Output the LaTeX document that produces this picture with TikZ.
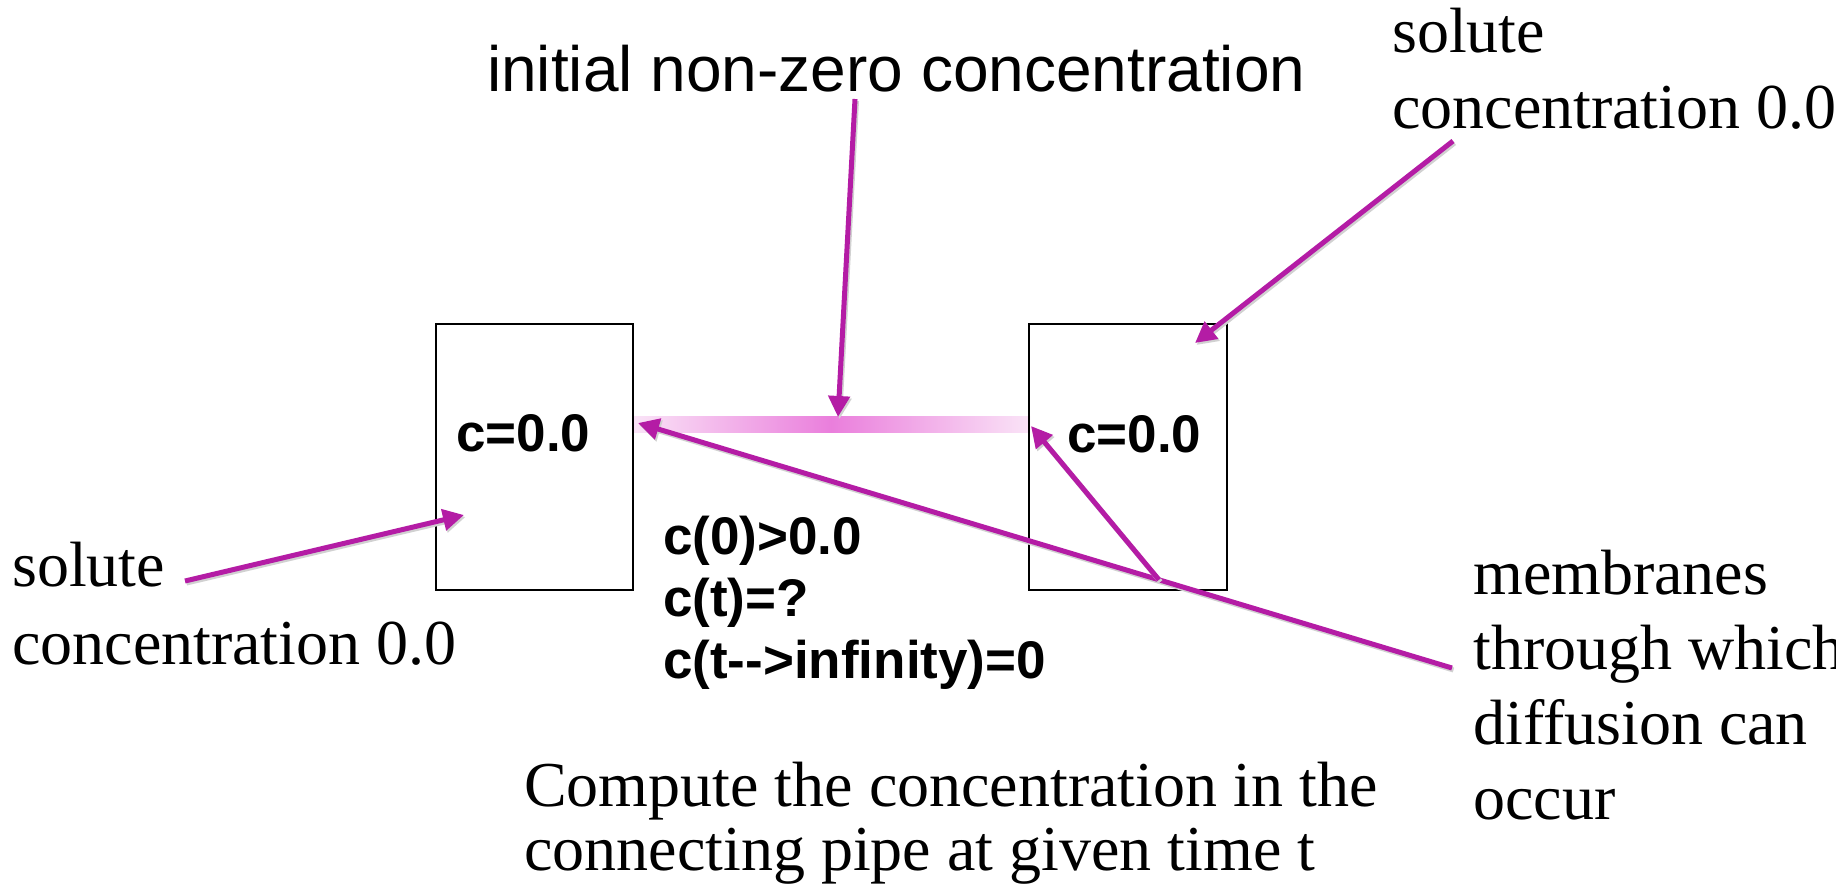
\documentclass[tikz,border=0pt]{standalone}
\usepackage{fontspec}
\setmainfont{Liberation Serif}
\setsansfont{Liberation Sans}
\usetikzlibrary{arrows.meta,calc}
\definecolor{arrowc}{RGB}{180,28,165}
\definecolor{pipeL}{RGB}{250,228,247}
\definecolor{pipeM}{RGB}{234,126,220}
\begin{document}
\begin{tikzpicture}[x=1pt,y=-1pt,
  lbl/.style={inner sep=0pt,anchor=base west,align=left},
  serif64/.style={lbl,font=\fontsize{64}{#1}\selectfont\rmfamily},
  sans64/.style={lbl,font=\fontsize{64}{76}\selectfont\sffamily},
  bold53/.style={lbl,font=\fontsize{53}{#1}\selectfont\sffamily\bfseries},
  box/.style={draw=black,line width=2pt,fill=none,inner sep=0pt},
  pointer/.style={draw=arrowc,line width=5pt,
    -{Triangle[length=21pt,width=21pt]},
    preaction={draw=black!18,line width=5pt,transform canvas={shift={(1.5pt,-2pt)}}}}
]
\useasboundingbox (0,0) rectangle (1836,886);
\fill[white] (0,0) rectangle (1836,886);

% connecting pipe
\shade[left color=pipeL,right color=pipeM] (633,416) rectangle (831.5,432);
\shade[left color=pipeM,right color=pipeL] (831,416) rectangle (1030,432);

% boxes
\node[box,minimum width=197pt,minimum height=266pt] (boxL) at (534.5,457) {};
\node[box,minimum width=198pt,minimum height=266pt] (boxR) at (1128,457) {};

% named points
\coordinate (pipeTop) at (838,417);
\coordinate (pipeL) at (638,423);
\coordinate (pipeR) at (1031,426);
\coordinate (inL) at (464,515);
\coordinate (inR) at (1195,343);
\coordinate (sInit) at (855,99);
\coordinate (sSolR) at (1453,141);
\coordinate (sSolL) at (185,581);
\coordinate (sMem) at (1452,668);
\coordinate (junc) at ($(sMem)!0.36!(pipeL)$);

% texts (multi-line nodes are anchored at the baseline of their last line)
\node[sans64] (tInit) at (487,91) {initial non-zero concentration};
\node[serif64=76] (tSolR) at (1392,128) {solute\\concentration 0.0};
\node[serif64=78] (tSolL) at (12,664) {solute\\concentration 0.0};
\node[bold53=62] (cL) at (456,451) {c=0.0};
\node[bold53=62] (cR) at (1067,452) {c=0.0};
\node[bold53=62] (tCond) at (663,678) {c(0)>0.0\\c(t)=?\\c(t-{}->infinity)=0};
\node[serif64=75] (tMem) at (1473,819) {membranes\\through which\\diffusion can\\occur};
\node[serif64=64] (tComp) at (524,870) {Compute the concentration in the\\connecting pipe at given time t};

% connectors
\draw[pointer] (sInit) -- (pipeTop);
\draw[pointer] (sSolR) -- (inR);
\draw[pointer] (sSolL) -- (inL);
\draw[pointer] (sMem) -- (pipeL);
\draw[pointer] (junc) -- (pipeR);
\end{tikzpicture}
\end{document}
